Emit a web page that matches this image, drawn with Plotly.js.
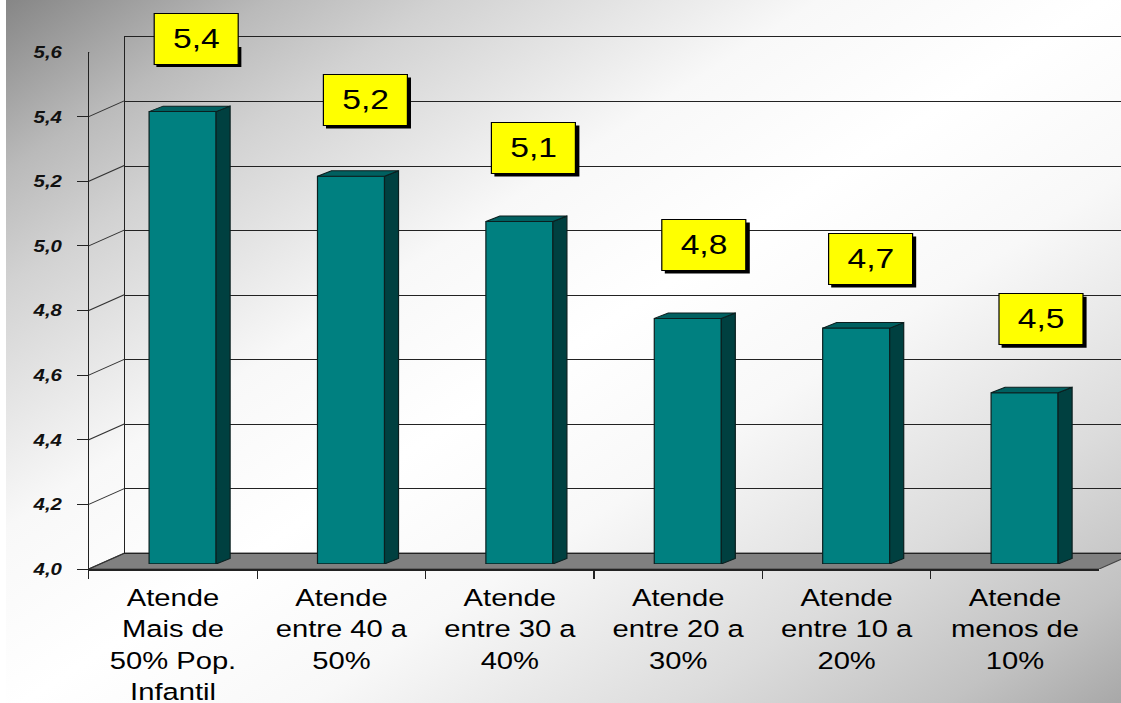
<!DOCTYPE html>
<html>
<head>
<meta charset="utf-8">
<script src="https://cdn.plot.ly/plotly-3.0.1.min.js"></script>
<style>
html,body{margin:0;padding:0;width:1121px;height:703px;overflow:hidden;background:#fff}
#bg{position:absolute;left:6px;top:0;width:1115px;height:703px;background:linear-gradient(147deg,#868686 0%,#bababa 12%,#d2d2d2 20%,#f8f8f8 37%,#ffffff 50%,#f8f8f8 63%,#dcdcdc 80%,#c2c2c2 92%,#a8a8a8 100%)}
#chart{position:absolute;left:0;top:0;transform:scaleX(1.2);transform-origin:0 0}
</style>
</head>
<body>
<div id="bg"></div>
<div id="chart"></div>
<script>
// Data
const categories = ["Atende<br>Mais de<br>50% Pop.<br>Infantil","Atende<br>entre 40 a<br>50%","Atende<br>entre 30 a<br>40%","Atende<br>entre 20 a<br>30%","Atende<br>entre 10 a<br>20%","Atende<br>menos de<br>10%"];
const barValues = [5.4,5.2,5.06,4.76,4.73,4.53];
const boxLabels = ["5,4","5,2","5,1","4,8","4,7","4,5"];
const yTickVals = [4.0,4.2,4.4,4.6,4.8,5.0,5.2,5.4,5.6];
const yTickText = ["4,0","4,2","4,4","4,6","4,8","5,0","5,2","5,4","5,6"];

// Geometry in screen pixels of the finished picture
const K = 1.2;                 // horizontal stretch of the whole chart
const FW = 1046, FH = 532;     // plot frame
const catPx = 1010/6, unitPx = 517/1.6;
const barW = 67/catPx, depthX = 14/catPx, depthY = 5.5/unitPx;
const idx = categories.map((_,i)=>i);
const boxDX = [13.25,14.5,14.5,16.5,14.5,16.5];
const boxDY = [73,76.3,73.5,73.5,69,73.5];

const side=[[],[]], top_=[[],[]], base=[[],[]];
idx.forEach(i=>{
  const v=barValues[i], l=i-barW/2, r=i+barW/2;
  side[0].push(r,r+depthX,r+depthX,r,r,null);
  side[1].push(4,4+depthY,v+depthY,v,4,null);
  top_[0].push(l,l+depthX,r+depthX,r,l,null);
  top_[1].push(v,v+depthY,v+depthY,v,v,null);
  base[0].push(l,r,null);
  base[1].push(4,4,null);
});
const edge='#0b1f1f';
const data=[
  {type:'scatter',mode:'none',x:idx,y:barValues,xaxis:'x',yaxis:'y',hoverinfo:'skip',showlegend:false},
  {type:'bar',x:idx,y:barValues,width:barW,xaxis:'x2',yaxis:'y2',marker:{color:'#008080',line:{color:edge,width:1}},hoverinfo:'skip',showlegend:false},
  {type:'scatter',mode:'lines',x:side[0],y:side[1],fill:'toself',fillcolor:'#004040',line:{color:edge,width:1},xaxis:'x2',yaxis:'y2',hoverinfo:'skip',showlegend:false},
  {type:'scatter',mode:'lines',x:top_[0],y:top_[1],fill:'toself',fillcolor:'#006060',line:{color:edge,width:1},xaxis:'x2',yaxis:'y2',hoverinfo:'skip',showlegend:false},
  {type:'scatter',mode:'lines',x:base[0],y:base[1],line:{color:edge,width:1.5},cliponaxis:false,xaxis:'x2',yaxis:'y2',hoverinfo:'skip',showlegend:false},
  {type:'scatter',mode:'none',x:categories,y:barValues,xaxis:'x3',yaxis:'y3',hoverinfo:'skip',showlegend:false},
  {type:'scatter',mode:'none',x:categories,y:barValues,xaxis:'x3',yaxis:'y4',hoverinfo:'skip',showlegend:false}
];

const backDX=36/FW, backDV=16/unitPx;
const shapes=[
  {type:'path',xref:'paper',yref:'y3',layer:'below',
   path:`M0,4 L${backDX},${4+backDV} L1,${4+backDV} L${1-backDX},4 Z`,
   fillcolor:'#808080',line:{color:'#444',width:1}}
];
yTickVals.forEach(v=>shapes.push({type:'line',xref:'paper',yref:'y3',layer:'below',x0:0,x1:backDX,y0:v,y1:v+backDV,line:{color:'#333',width:1}}));

const annotations=[];
idx.forEach(i=>{
  shapes.push({type:'rect',layer:'above',xref:'x2',yref:'y2',xsizemode:'pixel',ysizemode:'pixel',
    xanchor:i,yanchor:barValues[i],
    x0:(boxDX[i]-42.5+3)/K,x1:(boxDX[i]+42.5+3)/K,y0:boxDY[i]-25.5-3,y1:boxDY[i]+25.5-3,
    fillcolor:'#000',line:{width:0}});
  annotations.push({xref:'x2',yref:'y2',x:i,y:barValues[i],xshift:boxDX[i]/K,yshift:boxDY[i],
    text:boxLabels[i],showarrow:false,width:85/K-1.5,height:50,borderpad:0,borderwidth:1,
    bordercolor:'#000',bgcolor:'#ffff00',align:'center',valign:'middle',
    font:{family:'"Liberation Sans",Arial,sans-serif',size:28,color:'#000'}});
});

const noAxis={showgrid:false,zeroline:false,showticklabels:false,ticks:''};
const xf=d=>[d/FW,(d+1010)/FW];
const layout={
  width:1135/K,height:703,
  margin:{l:89/K,r:0,t:37,b:703-569,pad:0},
  paper_bgcolor:'rgba(0,0,0,0)',plot_bgcolor:'rgba(0,0,0,0)',
  showlegend:false,
  font:{family:'"Liberation Sans",Arial,sans-serif',color:'#000'},
  xaxis:Object.assign({},noAxis,{domain:xf(36),range:[-0.5,5.5],anchor:'y',showline:true,mirror:true,linecolor:'#222',linewidth:1}),
  yaxis:{domain:[16/FH,1],range:[4,5.6],anchor:'x',tickvals:yTickVals,showgrid:true,gridcolor:'#222',gridwidth:1,showline:true,linecolor:'#222',linewidth:1,zeroline:false,showticklabels:false,ticks:''},
  xaxis2:Object.assign({},noAxis,{domain:xf(9.6),range:[-0.5,5.5],anchor:'y2'}),
  yaxis2:Object.assign({},noAxis,{domain:[5/FH,522/FH],range:[4,5.6],anchor:'x2'}),
  xaxis3:{domain:xf(0),anchor:'y3',type:'category',categoryorder:'array',categoryarray:categories,range:[-0.5,5.5],
    tickson:'boundaries',ticks:'outside',ticklen:8,tickcolor:'#222',tickwidth:1,showline:true,linecolor:'#222',linewidth:1.5,showgrid:false,zeroline:false,tickangle:0,
    ticklabelstandoff:6,tickfont:{size:24.3,color:'#000'}},
  yaxis3:{domain:[0,517/FH],range:[4,5.6],anchor:'x3',tickvals:yTickVals,ticktext:yTickText,ticks:'',showgrid:false,zeroline:false,showline:true,linecolor:'#222',linewidth:1,
    ticklabelstandoff:18,tickfont:{size:17,weight:'bold',style:'italic',color:'#111'}},
  yaxis4:{overlaying:'y3',domain:[0,517/FH],range:[4,5.6],anchor:'x3',tickvals:yTickVals.slice(0,-1),ticks:'outside',ticklen:9,tickcolor:'#222',tickwidth:1,showticklabels:false,showgrid:false,zeroline:false},
  shapes:shapes,annotations:annotations
};
Plotly.newPlot('chart',data,layout,{staticPlot:true,displayModeBar:false});
</script>
</body>
</html>
